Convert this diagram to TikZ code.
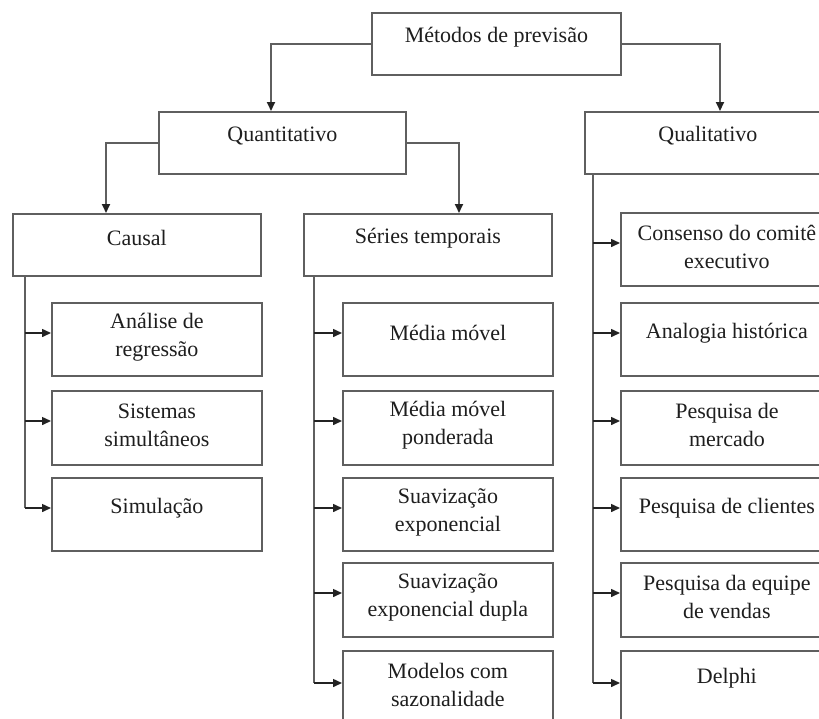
\documentclass[tikz,border=0pt]{standalone}
\usepackage{fontspec}
\setmainfont{Liberation Serif}
\usetikzlibrary{arrows.meta}
\definecolor{ln}{RGB}{95,95,95}
\definecolor{ar}{RGB}{35,35,35}
\definecolor{tx}{RGB}{30,30,30}
\tikzset{
  boxst/.style={draw=ln, line width=1.8pt, fill=white, inner sep=0pt, anchor=north west},
  txt/.style={text=tx, font=\fontsize{22}{28}\selectfont, align=center, inner sep=0pt},
  conn/.style={draw=ln, line width=1.8pt},
  arr/.style={draw=ar, line width=1.5pt, -{Triangle[length=9pt,width=8pt]}},
  arrv/.style={conn, -{Triangle[length=9pt,width=8pt,color=ar]}},
}
\newcommand{\bx}[5]{\node[boxst, minimum width=#4pt, minimum height=#5pt] (#1) at (#2,#3) {};}
\begin{document}
\begin{tikzpicture}[x=1pt,y=-1pt]
\useasboundingbox (0,0) rectangle (819,718);
\clip (0,0) rectangle (819,718);
% main boxes
\bx{top}{371}{12}{249}{62}
\bx{quant}{158}{111}{247}{62}
\bx{qual}{584}{111}{246}{62}
\bx{causal}{12}{213}{248}{62}
\bx{series}{303}{213}{248}{62}
% causal children
\bx{ca1}{51}{302}{210}{73}
\bx{ca2}{51}{390}{210}{74}
\bx{ca3}{51}{477}{210}{73}
% series children
\bx{s1}{342}{302}{210}{73}
\bx{s2}{342}{390}{210}{74}
\bx{s3}{342}{477}{210}{73}
\bx{s4}{342}{562}{210}{74}
\bx{s5}{342}{650}{210}{100}
% qualitativo children
\bx{q0}{620}{212}{212}{73}
\bx{q1}{620}{302}{212}{73}
\bx{q2}{620}{390}{212}{74}
\bx{q3}{620}{477}{212}{73}
\bx{q4}{620}{562}{212}{74}
\bx{q5}{620}{650}{212}{100}
% texts
\node[txt] (ttop) at ([yshift=-25pt]top.north) {Métodos de previsão};
\node[txt] (tquant) at ([yshift=-25pt]quant.north) {Quantitativo};
\node[txt] (tqual) at ([yshift=-25pt]qual.north) {Qualitativo};
\node[txt] (tcausal) at ([yshift=-25pt]causal.north) {Causal};
\node[txt] (tseries) at ([yshift=-25pt]series.north) {Séries temporais};
\node[txt] (tca1) at ([yshift=-35pt]ca1.north) {Análise de\\regressão};
\node[txt] (tca2) at ([yshift=-35pt]ca2.north) {Sistemas\\simultâneos};
\node[txt] (tca3) at ([yshift=-31pt]ca3.north) {Simulação};
\node[txt] (ts1) at ([yshift=-31pt]s1.north) {Média móvel};
\node[txt] (ts2) at ([yshift=-35pt]s2.north) {Média móvel\\ponderada};
\node[txt] (ts3) at ([yshift=-35pt]s3.north) {Suavização\\exponencial};
\node[txt] (ts4) at ([yshift=-35pt]s4.north) {Suavização\\exponencial dupla};
\node[txt] (ts5) at ([yshift=-35pt]s5.north) {Modelos com\\sazonalidade};
\node[txt] (tq0) at ([yshift=-35pt]q0.north) {Consenso do comitê\\executivo};
\node[txt] (tq1) at ([yshift=-31pt]q1.north) {Analogia histórica};
\node[txt] (tq2) at ([yshift=-35pt]q2.north) {Pesquisa de\\mercado};
\node[txt] (tq3) at ([yshift=-31pt]q3.north) {Pesquisa de clientes};
\node[txt] (tq4) at ([yshift=-35pt]q4.north) {Pesquisa da equipe\\de vendas};
\node[txt] (tq5) at ([yshift=-28pt]q5.north) {Delphi};
% arrow target coordinates
\coordinate (quantin) at ([xshift=113pt]quant.north west);
\coordinate (qualin) at ([xshift=136pt]qual.north west);
\coordinate (causalin) at ([xshift=94pt]causal.north west);
\coordinate (seriesin) at ([xshift=156pt]series.north west);
\draw[arrv] (top.west) -| (quantin);
\draw[arrv] (top.east) -| (qualin);
\draw[arrv] (quant.west) -| (causalin);
\draw[arrv] (quant.east) -| (seriesin);
% spines
\coordinate (cs) at ([xshift=13pt]causal.south west);
\coordinate (ss) at ([xshift=11pt]series.south west);
\coordinate (qs) at ([xshift=9pt]qual.south west);
\foreach \b in {ca1,ca2,ca3,s1,s2,s3,s4,s5,q0,q1,q2,q3,q4}
  \coordinate (\b a) at ([yshift=-31pt]\b.north west);
\coordinate (q5a) at ([yshift=-33pt]q5.north west);
\coordinate (s5a) at ([yshift=-33pt]s5.north west);
\draw[conn] (cs) -- (cs |- ca3a);
\draw[conn] (ss) -- (ss |- s5a);
\draw[conn] (qs) -- (qs |- q5a);
\foreach \b in {ca1,ca2,ca3}
  \draw[arr] (cs |- \b a) -- (\b a);
\foreach \b in {s1,s2,s3,s4,s5}
  \draw[arr] (ss |- \b a) -- (\b a);
\foreach \b in {q0,q1,q2,q3,q4,q5}
  \draw[arr] (qs |- \b a) -- (\b a);
\end{tikzpicture}
\end{document}
